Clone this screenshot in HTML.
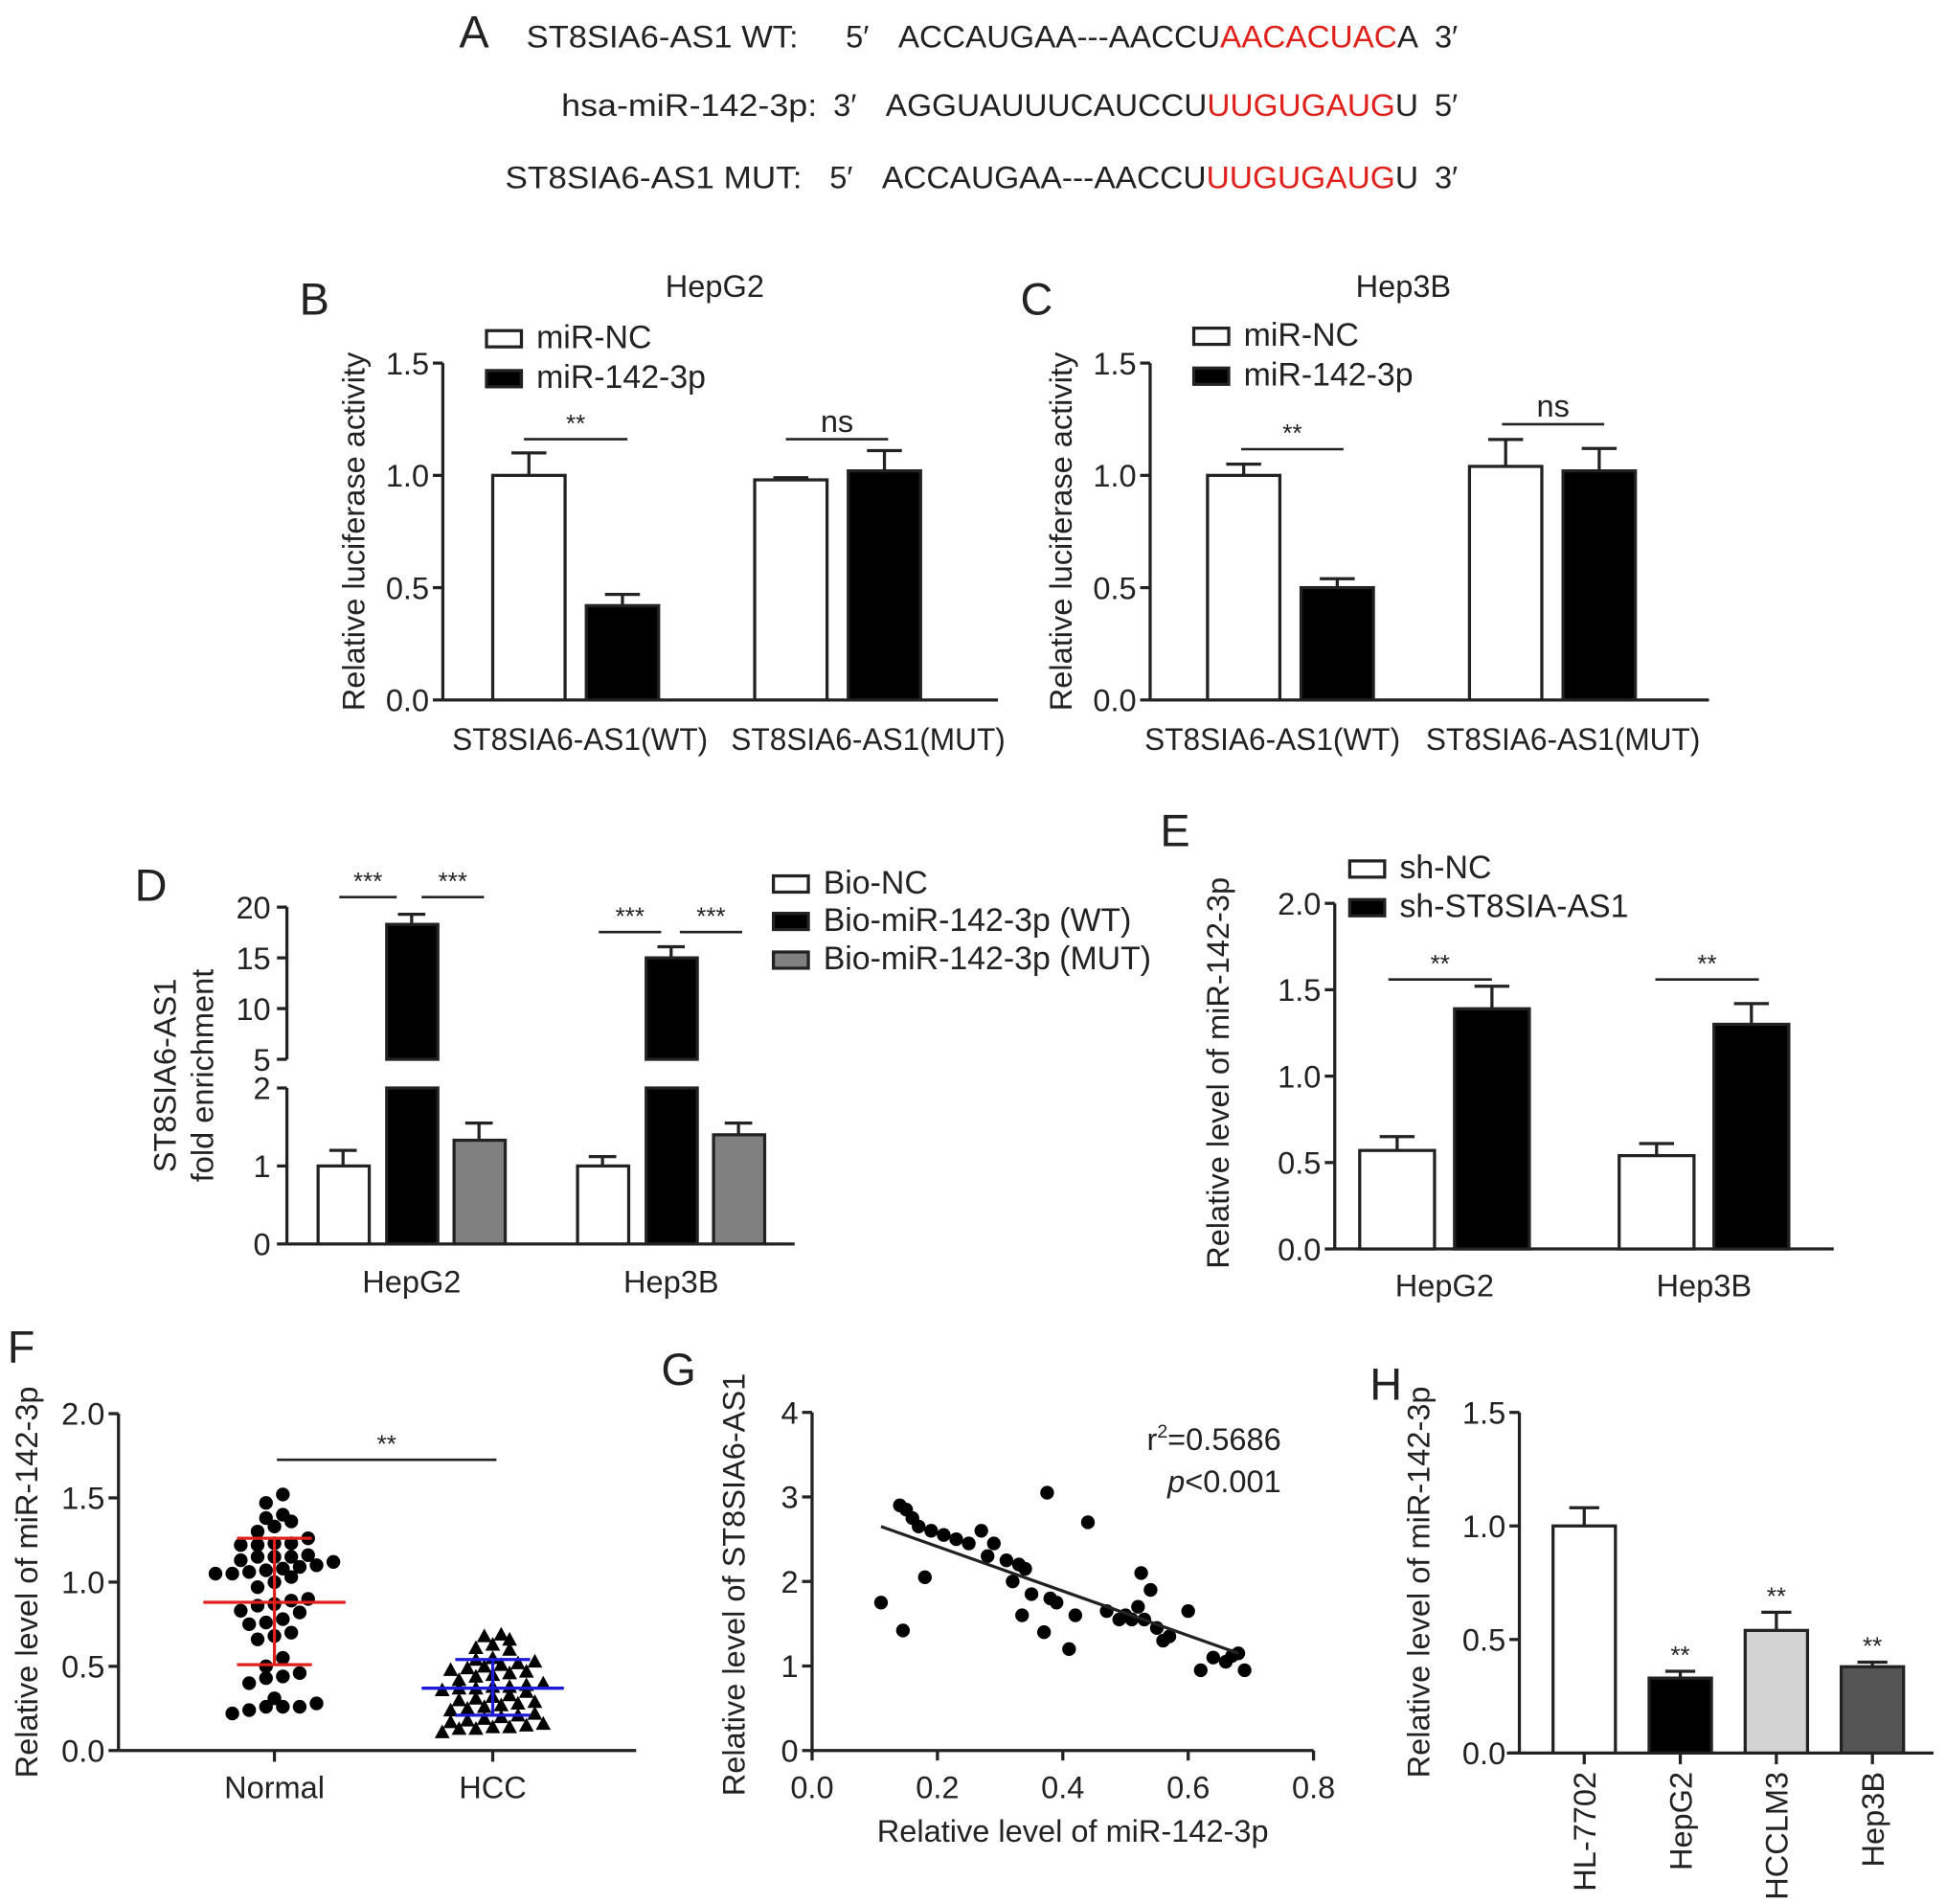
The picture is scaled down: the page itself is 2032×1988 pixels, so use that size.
<!DOCTYPE html>
<html><head><meta charset="utf-8"><style>
html,body{margin:0;padding:0;background:#fff}
svg{display:block}
text{font-family:"Liberation Sans",Arial,sans-serif;fill:#222}
</style></head><body>
<svg id="fig" xmlns="http://www.w3.org/2000/svg" width="2032" height="1988" viewBox="0 0 1560 1526" preserveAspectRatio="none">
<g font-size="25">
<text x="368" y="38" font-size="36">A</text>
<text x="422" y="38" textLength="218" lengthAdjust="spacingAndGlyphs">ST8SIA6-AS1  WT:</text>
<text x="678" y="38">5′</text>
<text x="720" y="38" textLength="417" lengthAdjust="spacingAndGlyphs">ACCAUGAA---AACCU<tspan fill="#e0201b">AACACUAC</tspan>A</text>
<text x="1150" y="38">3′</text>
<text x="450" y="93" textLength="205" lengthAdjust="spacingAndGlyphs">hsa-miR-142-3p:</text>
<text x="668" y="93">3′</text>
<text x="710" y="93" textLength="427" lengthAdjust="spacingAndGlyphs">AGGUAUUUCAUCCU<tspan fill="#e0201b">UUGUGAUG</tspan>U</text>
<text x="1150" y="93">5′</text>
<text x="405" y="151" textLength="238" lengthAdjust="spacingAndGlyphs">ST8SIA6-AS1  MUT:</text>
<text x="665" y="151">5′</text>
<text x="707" y="151" textLength="430" lengthAdjust="spacingAndGlyphs">ACCAUGAA---AACCU<tspan fill="#e0201b">UUGUGAUG</tspan>U</text>
<text x="1150" y="151">3′</text>
</g>
<g id="charts"></g>
</svg>
<script>
// ---- data ----
const bGroups = ["ST8SIA6-AS1(WT)", "ST8SIA6-AS1(MUT)"];
const bNC = [1.0, 0.98];
const bNCerr = [0.1, 0.01];
const bMiR = [0.42, 1.02];
const bMiRerr = [0.05, 0.09];
const bTicks = [0, 0.5, 1.0, 1.5];

const cGroups = ["ST8SIA6-AS1(WT)", "ST8SIA6-AS1(MUT)"];
const cNC = [1.0, 1.04];
const cNCerr = [0.05, 0.12];
const cMiR = [0.5, 1.02];
const cMiRerr = [0.04, 0.1];

const dGroups = ["HepG2", "Hep3B"];
const dBioNC = [1.0, 1.0];
const dBioNCerr = [0.2, 0.12];
const dWT = [18.3, 15.0];
const dWTerr = [1.0, 1.1];
const dMUT = [1.33, 1.4];
const dMUTerr = [0.22, 0.15];
const dTicksLow = [0, 1, 2];
const dTicksHigh = [5, 10, 15, 20];

const eGroups = ["HepG2", "Hep3B"];
const eNC = [0.57, 0.54];
const eNCerr = [0.08, 0.07];
const eSh = [1.39, 1.3];
const eSherr = [0.13, 0.12];
const eTicks = [0, 0.5, 1.0, 1.5, 2.0];

const fNormal = [1.52,1.47,1.40,1.38,1.36,1.33,1.30,1.26,1.23,1.22,1.23,1.22,1.15,1.15,1.16,1.15,1.13,1.12,1.10,1.09,1.08,1.07,1.06,1.05,1.03,1.05,1.00,0.97,0.90,0.89,0.87,0.86,0.83,0.82,0.78,0.76,0.75,0.70,0.68,0.66,0.55,0.50,0.46,0.44,0.43,0.40,0.31,0.28,0.26,0.26,0.26,0.24,0.22];
const fHCC = [0.69,0.68,0.66,0.63,0.61,0.60,0.55,0.54,0.53,0.52,0.51,0.50,0.49,0.48,0.47,0.46,0.45,0.44,0.42,0.40,0.39,0.38,0.38,0.37,0.37,0.36,0.35,0.33,0.32,0.31,0.30,0.29,0.28,0.27,0.26,0.25,0.24,0.22,0.21,0.20,0.19,0.18,0.17,0.16,0.15,0.14,0.14,0.13,0.13,0.11];
const fNormalStats = [0.51, 0.88, 1.26];
const fHCCStats = [0.21, 0.37, 0.54];
const fTicks = [0, 0.5, 1.0, 1.5, 2.0];

const gX = [0.11,0.145,0.14,0.15,0.16,0.17,0.18,0.19,0.21,0.23,0.25,0.27,0.28,0.29,0.31,0.32,0.33,0.34,0.335,0.35,0.37,0.375,0.38,0.39,0.41,0.42,0.44,0.47,0.49,0.5,0.51,0.52,0.525,0.53,0.54,0.55,0.56,0.57,0.6,0.62,0.64,0.66,0.67,0.68,0.69];
const gY = [1.75,1.42,2.9,2.85,2.75,2.65,2.05,2.6,2.55,2.5,2.45,2.6,2.3,2.45,2.25,2.0,2.2,2.15,1.6,1.85,1.4,3.05,1.8,1.75,1.2,1.6,2.7,1.65,1.55,1.6,1.55,1.7,2.1,1.55,1.9,1.45,1.3,1.35,1.65,0.95,1.1,1.05,1.12,1.15,0.95];
const gFitX = [0.11, 0.68];
const gFitY = [2.65, 1.15];
const gXTicks = [0, 0.2, 0.4, 0.6, 0.8];
const gYTicks = [0, 1, 2, 3, 4];

const hCats = ["HL-7702", "HepG2", "HCCLM3", "Hep3B"];
const hVals = [1.0, 0.33, 0.54, 0.38];
const hErr = [0.08, 0.03, 0.08, 0.02];
const hSig = ["", "**", "**", "**"];
const hTicks = [0, 0.5, 1.0, 1.5];

// ---- helpers ----
const NS = "http://www.w3.org/2000/svg";
const root = document.getElementById("charts");
function el(tag, attrs, parent, txt) {
  const e = document.createElementNS(NS, tag);
  for (const k in attrs) e.setAttribute(k, attrs[k]);
  if (txt !== undefined) e.textContent = txt;
  (parent || root).appendChild(e);
  return e;
}
function grp(name) {
  const g = el("g", {});
  
  
  return g;
}
function txt(g, x, y, s, name, opts) {
  const t = el("text", Object.assign({x: x, y: y, "font-size": 25}, opts || {}), g, s);
  
  
  return t;
}
function line(g, x1, y1, x2, y2, name, color, w) {
  const l = el("line", {x1: x1, y1: y1, x2: x2, y2: y2, stroke: color || "#222", "stroke-width": w || 2.5}, g);
  
  
  return l;
}
function bar(g, x, w, y0, y1, fill, name) {
  const r = el("rect", {x: x, y: Math.min(y0, y1), width: w, height: Math.abs(y0 - y1), fill: fill, stroke: "#222", "stroke-width": 2.5}, g);
  
  
  return r;
}
function errbar(g, cx, yv, ye, cw, name) {
  line(g, cx, yv, cx, ye, name);
  line(g, cx - cw / 2, ye, cx + cw / 2, ye, name + "-cap");
}
function yaxis(g, x, ticks, sy, top, bot, fmt) {
  line(g, x, top, x, bot, "y-axis-line");
  ticks.forEach(t => {
    line(g, x - 8, sy(t), x, sy(t), "y-tick");
    txt(g, x - 11, sy(t) + 9, fmt(t), "y-tick-label", {"text-anchor": "end"});
  });
}
function ytitle(g, x, y, s, name) {
  return txt(g, x, y, s, name, {"text-anchor": "middle", transform: "rotate(-90 " + x + " " + y + ")"});
}
function sig(g, x1, x2, y, s, name) {
  line(g, x1, y, x2, y, name + "-line", "#222", 2);
  txt(g, (x1 + x2) / 2, y - 6, s, name, {"text-anchor": "middle", "font-size": s === "ns" ? 25 : 20});
}
function legendBox(g, x, y, fill, label, name) {
  const r = el("rect", {x: x, y: y, width: 28, height: 13, fill: fill, stroke: "#222", "stroke-width": 2.5}, g);
  
  
  txt(g, x + 40, y + 14, label, name + "-label", {"font-size": 26});
}
const f1 = t => t.toFixed(1);
const f0 = t => String(t);

// ---- panel B/C ----
function lucPanel(name, x0, xEnd, groups, nc, ncErr, mir, mirErr, xs, labX, title, titleX, letter, letterX, sigs, legY) {
  const g = grp(name);
  const sy = v => 561 - v * 180;
  txt(g, letterX, 252, letter, "panel-label", {"font-size": 36});
  txt(g, titleX, 238, title, "chart-title", {"text-anchor": "middle"});
  yaxis(g, x0, bTicks, sy, 291, 561, f1);
  line(g, x0, 561, xEnd, 561, "x-axis-line");
  ytitle(g, x0 - 63, 426, "Relative luciferase activity", "y-axis-title");
  groups.forEach((lab, i) => {
    const xa = xs[i];
    bar(g, xa, 58, sy(0), sy(nc[i]), "#fff", "bar-nc-" + i);
    errbar(g, xa + 29, sy(nc[i]), sy(nc[i] + ncErr[i]), 28, "err-nc-" + i);
    bar(g, xa + 75, 58, sy(0), sy(mir[i]), "#000", "bar-mir-" + i);
    errbar(g, xa + 104, sy(mir[i]), sy(mir[i] + mirErr[i]), 28, "err-mir-" + i);
    txt(g, labX[i], 601, lab, "x-tick-label", {"text-anchor": "middle", textLength: i === 0 ? 205 : 220, lengthAdjust: "spacingAndGlyphs"});
  });
  legendBox(g, x0 + 35, legY, "#fff", "miR-NC", "legend-mir-nc");
  legendBox(g, x0 + 35, legY + 32, "#000", "miR-142-3p", "legend-mir-142");
  sigs.forEach((s, i) => sig(g, s[0], s[1], s[2], s[3], "sig-" + i));
}
lucPanel("panel-b", 355, 800, bGroups, bNC, bNCerr, bMiR, bMiRerr, [395, 605], [465, 696], "HepG2", 573, "B", 240, [[420, 503, 352, "**"], [630, 712, 352, "ns"]], 265);
lucPanel("panel-c", 922, 1370, cGroups, cNC, cNCerr, cMiR, cMiRerr, [968, 1178], [1020, 1253], "Hep3B", 1125, "C", 818, [[995, 1077, 360, "**"], [1204, 1286, 340, "ns"]], 263);

// ---- panel D ----
(function () {
  const g = grp("panel-d");
  const syLow = v => 997 - v * 62.5;
  const syHigh = v => 849 - (v - 5) * 8.13;
  const sy = v => v <= 2 ? syLow(v) : syHigh(Math.max(v, 5));
  const x0 = 230;
  txt(g, 108, 722, "D", "panel-label", {"font-size": 36});
  line(g, x0, syLow(0), x0, syLow(2), "y-axis-line-low");
  line(g, x0, syHigh(5), x0, syHigh(20), "y-axis-line-high");
  dTicksLow.forEach(t => { line(g, x0 - 8, syLow(t), x0, syLow(t), "y-tick"); txt(g, x0 - 13, syLow(t) + 9, f0(t), "y-tick-label", {"text-anchor": "end"}); });
  dTicksHigh.forEach(t => { line(g, x0 - 8, syHigh(t), x0, syHigh(t), "y-tick"); txt(g, x0 - 13, syHigh(t) + 9, f0(t), "y-tick-label", {"text-anchor": "end"}); });
  line(g, x0, 997, 637, 997, "x-axis-line");
  ytitle(g, 141, 862, "ST8SIA6-AS1", "y-axis-title-1");
  ytitle(g, 171, 862, "fold enrichment", "y-axis-title-2");
  const starts = [255, 463];
  dGroups.forEach((lab, i) => {
    const xa = starts[i];
    bar(g, xa, 41, sy(0), sy(dBioNC[i]), "#fff", "bar-bio-nc-" + i);
    errbar(g, xa + 20, sy(dBioNC[i]), sy(dBioNC[i] + dBioNCerr[i]), 22, "err-bio-nc-" + i);
    bar(g, xa + 55, 41, syLow(0), syLow(2), "#000", "bar-wt-low-" + i);
    bar(g, xa + 55, 41, syHigh(5), syHigh(dWT[i]), "#000", "bar-wt-high-" + i);
    errbar(g, xa + 75, syHigh(dWT[i]), syHigh(dWT[i] + dWTerr[i]), 22, "err-wt-" + i);
    bar(g, xa + 109, 41, sy(0), sy(dMUT[i]), "#808080", "bar-mut-" + i);
    errbar(g, xa + 129, sy(dMUT[i]), sy(dMUT[i] + dMUTerr[i]), 22, "err-mut-" + i);
    txt(g, xa + 75, 1036, lab, "x-tick-label", {"text-anchor": "middle"});
  });
  sig(g, 272, 318, 719, "***", "sig-d-0"); sig(g, 338, 388, 719, "***", "sig-d-1");
  sig(g, 480, 530, 747, "***", "sig-d-2"); sig(g, 545, 595, 747, "***", "sig-d-3");
  legendBox(g, 620, 702, "#fff", "Bio-NC", "legend-bio-nc");
  legendBox(g, 620, 732, "#000", "Bio-miR-142-3p (WT)", "legend-bio-wt");
  legendBox(g, 620, 763, "#808080", "Bio-miR-142-3p (MUT)", "legend-bio-mut");
})();

// ---- panel E ----
(function () {
  const g = grp("panel-e");
  const sy = v => 1001 - v * 138.5;
  txt(g, 930, 678, "E", "panel-label", {"font-size": 36});
  yaxis(g, 1070, eTicks, sy, 724, 1001, f1);
  line(g, 1070, 1001, 1470, 1001, "x-axis-line");
  ytitle(g, 985, 860, "Relative level of miR-142-3p", "y-axis-title");
  const starts = [1090, 1298];
  eGroups.forEach((lab, i) => {
    const xa = starts[i];
    bar(g, xa, 60, sy(0), sy(eNC[i]), "#fff", "bar-sh-nc-" + i);
    errbar(g, xa + 30, sy(eNC[i]), sy(eNC[i] + eNCerr[i]), 28, "err-sh-nc-" + i);
    bar(g, xa + 76, 60, sy(0), sy(eSh[i]), "#000", "bar-sh-st8-" + i);
    errbar(g, xa + 106, sy(eSh[i]), sy(eSh[i] + eSherr[i]), 28, "err-sh-st8-" + i);
    txt(g, xa + 68, 1039, lab, "x-tick-label", {"text-anchor": "middle"});
  });
  sig(g, 1113, 1196, 785, "**", "sig-e-0"); sig(g, 1327, 1410, 785, "**", "sig-e-1");
  legendBox(g, 1082, 690, "#fff", "sh-NC", "legend-sh-nc");
  legendBox(g, 1082, 721, "#000", "sh-ST8SIA-AS1", "legend-sh-st8");
})();

// ---- panel F ----
(function () {
  const g = grp("panel-f");
  const sy = v => 1403 - v * 135;
  txt(g, 6, 1092, "F", "panel-label", {"font-size": 36});
  yaxis(g, 95, fTicks, sy, 1133, 1403, f1);
  line(g, 95, 1403, 510, 1403, "x-axis-line");
  line(g, 220, 1403, 220, 1412, "x-tick"); line(g, 395, 1403, 395, 1412, "x-tick");
  txt(g, 220, 1441, "Normal", "x-tick-label", {"text-anchor": "middle"});
  txt(g, 395, 1441, "HCC", "x-tick-label", {"text-anchor": "middle"});
  ytitle(g, 30, 1268, "Relative level of miR-142-3p", "y-axis-title");
  sig(g, 222, 398, 1170, "**", "sig-f");
  function swarm(vals, cx, shape, name, thr, sp) {
    const sorted = vals.slice().sort((a, b) => a - b);
    let rows = [];
    sorted.forEach(v => {
      const last = rows[rows.length - 1];
      if (last && v - last[0] < thr) last.push(v); else rows.push([v]);
    });
    rows.forEach(r => r.forEach((v, k) => {
      const x = cx + (k - (r.length - 1) / 2) * sp;
      const y = sy(v);
      let m;
      if (shape === "c") m = el("circle", {cx: x, cy: y, r: 5.5, fill: "#000"}, g);
      else m = el("polygon", {points: (x) + "," + (y - 6) + " " + (x - 6) + "," + (y + 5) + " " + (x + 6) + "," + (y + 5), fill: "#000"}, g);
      
      
    }));
  }
  swarm(fNormal, 220, "c", "point-normal", 0.075, 13.5);
  swarm(fHCC, 395, "t", "point-hcc", 0.06, 13.5);
  function stats(s, cx, col, n) {
    line(g, cx, sy(s[0]), cx, sy(s[2]), n + "-sd", col, 2.5);
    line(g, cx - 57, sy(s[1]), cx + 57, sy(s[1]), n + "-mean", col, 2.5);
    line(g, cx - 30, sy(s[0]), cx + 30, sy(s[0]), n + "-cap-low", col, 2.5);
    line(g, cx - 30, sy(s[2]), cx + 30, sy(s[2]), n + "-cap-high", col, 2.5);
  }
  stats(fNormalStats, 220, "#e0201b", "normal-stats");
  stats(fHCCStats, 395, "#1c1cd8", "hcc-stats");
})();

// ---- panel G ----
(function () {
  const g = grp("panel-g");
  const sx = v => 651 + v * 502.5;
  const sy = v => 1403 - v * 67.75;
  txt(g, 530, 1110, "G", "panel-label", {"font-size": 36});
  yaxis(g, 651, gYTicks, sy, 1132, 1403, f0);
  line(g, 651, 1403, 1053, 1403, "x-axis-line");
  gXTicks.forEach(t => { line(g, sx(t), 1403, sx(t), 1411, "x-tick"); txt(g, sx(t), 1441, f1(t), "x-tick-label", {"text-anchor": "middle"}); });
  txt(g, 860, 1476, "Relative level of miR-142-3p", "x-axis-title", {"text-anchor": "middle"});
  ytitle(g, 597, 1270, "Relative level of ST8SIA6-AS1", "y-axis-title");
  gX.forEach((x, i) => {
    const c = el("circle", {cx: sx(x), cy: sy(gY[i]), r: 5.5, fill: "#000"}, g);
    
    
  });
  line(g, sx(gFitX[0]), sy(gFitY[0]), sx(gFitX[1]), sy(gFitY[1]), "regression-line", "#222", 2.5);
  const r = txt(g, 1027, 1162, "", "r-squared", {"text-anchor": "end"});
  r.innerHTML = 'r<tspan dy="-10" font-size="15">2</tspan><tspan dy="10">=0.5686</tspan>';
  const p = txt(g, 1027, 1196, "", "p-value", {"text-anchor": "end"});
  p.innerHTML = '<tspan font-style="italic">p</tspan>&lt;0.001';
})();

// ---- panel H ----
(function () {
  const g = grp("panel-h");
  const sy = v => 1405 - v * 182;
  txt(g, 1098, 1122, "H", "panel-label", {"font-size": 36});
  yaxis(g, 1218, hTicks, sy, 1132, 1405, f1);
  line(g, 1208, 1405, 1550, 1405, "x-axis-line");
  ytitle(g, 1146, 1268, "Relative level of miR-142-3p", "y-axis-title");
  const fills = ["#fff", "#000", "#d3d3d3", "#555"];
  hCats.forEach((c, i) => {
    const xa = 1245 + i * 77;
    bar(g, xa, 50, sy(0), sy(hVals[i]), fills[i], "bar-" + c.toLowerCase());
    errbar(g, xa + 25, sy(hVals[i]), sy(hVals[i] + hErr[i]), 24, "err-" + c.toLowerCase());
    if (hSig[i]) txt(g, xa + 25, sy(hVals[i] + hErr[i]) - 6, hSig[i], "sig-h-" + i, {"text-anchor": "middle", "font-size": 20});
    line(g, xa + 25, 1405, xa + 25, 1414, "x-tick");
    txt(g, xa + 34, 1420, c, "x-tick-label", {"text-anchor": "end", transform: "rotate(-90 " + (xa + 34) + " 1420)"});
  });
})();
</script>
</body></html>
